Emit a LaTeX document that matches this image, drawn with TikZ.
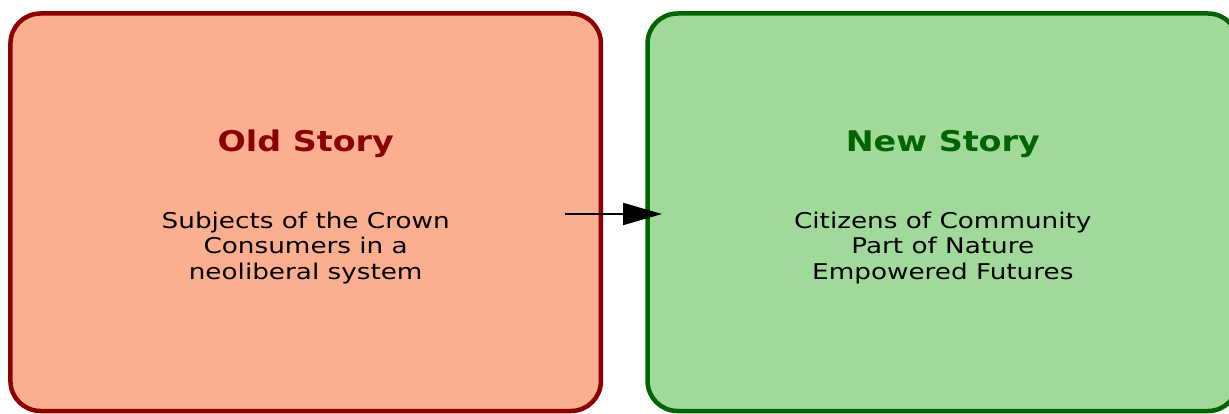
\documentclass[tikz,border=0pt]{standalone}
\usepackage{fontspec}
\usetikzlibrary{arrows.meta}
\newfontfamily\djs[FakeStretch=1.21]{DejaVu Sans}
\newfontfamily\djt[FakeStretch=1.17]{DejaVu Sans}
\definecolor{oldfill}{HTML}{FCAE91}
\definecolor{newfill}{HTML}{A1D99B}
\definecolor{oldline}{HTML}{8B0000}
\definecolor{newline}{HTML}{006400}
\tikzset{
  storybox/.style={draw, line width=4.5pt, rounded corners=30pt, minimum width=590.5pt, minimum height=397.5pt, inner sep=0pt},
  titletext/.style={anchor=base, inner sep=0pt, font=\djt\fontsize{28.5}{34}\selectfont\bfseries},
  bodytext/.style={anchor=north, inner sep=0pt, align=center, font=\djs\fontsize{21.7}{25.3}\selectfont},
  flow/.style={line width=2pt, -{Triangle[length=39pt,width=22pt]}}
}
\begin{document}
\begin{tikzpicture}[x=1pt,y=-1pt]
\useasboundingbox (0,0) rectangle (1229,414);
\clip (0,0) rectangle (1229,414);
\node[storybox, fill=oldfill, draw=oldline] (old) at (305.7,212.25) {};
\node[storybox, fill=newfill, draw=newline] (new) at (942.8,212.25) {};
\node[titletext, text=oldline] (oldtitle) at (305.7,151.5) {Old Story};
\node[titletext, text=newline] (newtitle) at (942.8,151.5) {New Story};
\node[bodytext] (oldbody) at (305.7,212) {Subjects of the Crown\\Consumers in a\\neoliberal system};
\node[bodytext] (newbody) at (942.8,212) {Citizens of Community\\Part of Nature\\Empowered Futures};
\coordinate (from) at (565,214);
\coordinate (to) at (662,214);
\draw[flow] (from) -- (to);
\end{tikzpicture}
\end{document}
